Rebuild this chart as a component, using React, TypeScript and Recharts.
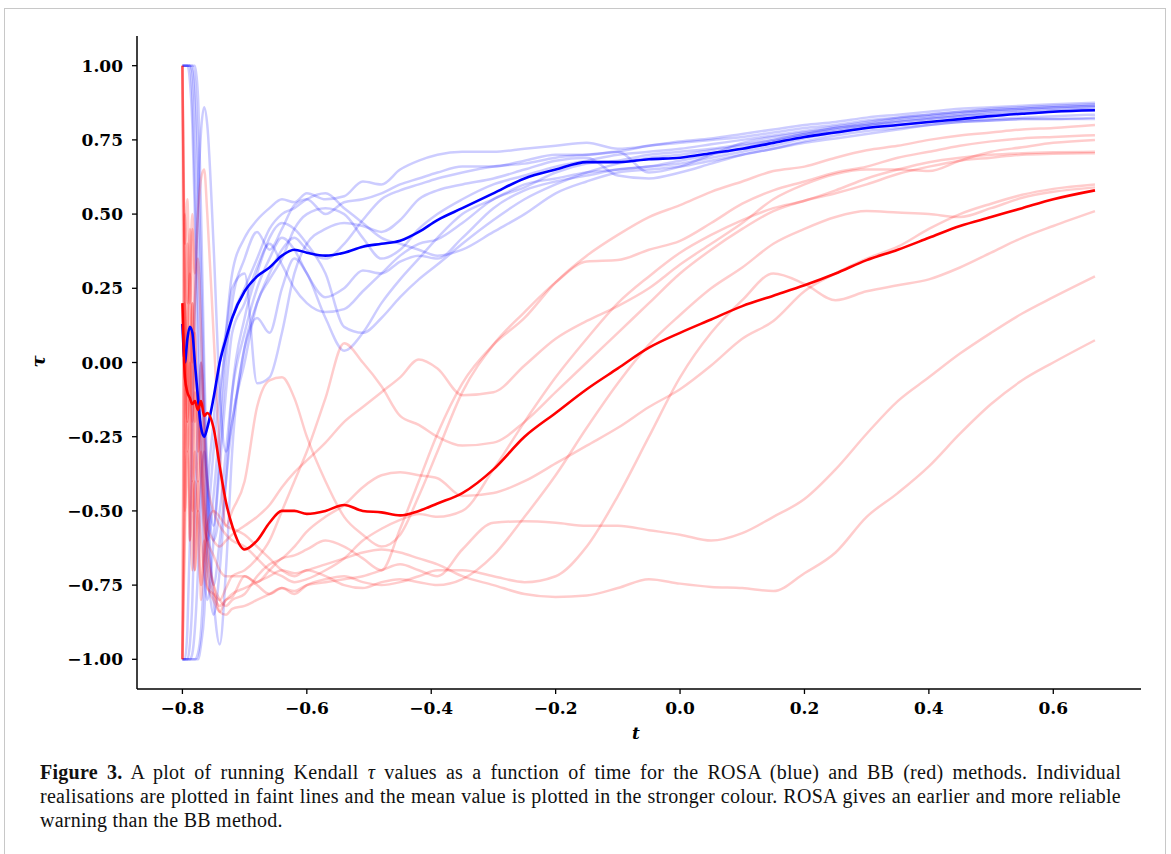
import React from 'react';
import { LineChart, Line, XAxis, YAxis } from 'recharts';

// time grid (finer at the start where the runs jump around)
const T = [
  -0.8, -0.796, -0.792, -0.788, -0.784, -0.78, -0.775, -0.77, -0.765, -0.76, -0.75, -0.74, -0.73, -0.72,
  -0.7, -0.68, -0.66, -0.64, -0.62, -0.6, -0.57, -0.54, -0.51, -0.48, -0.45, -0.42, -0.39, -0.35, -0.3,
  -0.25, -0.2, -0.15, -0.1, -0.05, 0.0, 0.05, 0.1, 0.15, 0.2, 0.25, 0.3, 0.35, 0.4, 0.45, 0.5, 0.55, 0.6, 0.667,
];

const blueMean = [
  0.13, 0.0, 0.08, 0.12, 0.1, 0.0, -0.12, -0.22, -0.25, -0.22, -0.12, 0.0, 0.08, 0.15,
  0.24, 0.29, 0.32, 0.36, 0.38, 0.37, 0.36, 0.37, 0.39, 0.4, 0.41, 0.44, 0.48, 0.52, 0.57, 0.62, 0.65, 0.675,
  0.675, 0.685, 0.69, 0.705, 0.72, 0.74, 0.76, 0.775, 0.79, 0.8, 0.81, 0.82, 0.83, 0.838, 0.845, 0.85,
];

const redMean = [
  0.2, -0.05, -0.1, -0.12, -0.14, -0.13, -0.16, -0.13, -0.18, -0.17, -0.22, -0.35, -0.47, -0.55,
  -0.63, -0.6, -0.54, -0.5, -0.5, -0.51, -0.5, -0.48, -0.5, -0.505, -0.515, -0.5, -0.475, -0.44, -0.36, -0.25,
  -0.17, -0.09, -0.02, 0.05, 0.1, 0.145, 0.19, 0.225, 0.26, 0.3, 0.345, 0.38, 0.42, 0.46, 0.49, 0.52, 0.55, 0.58,
];

const blue1 = [1, 1, 1, 1, 0.9, 0.6, 0.2, -0.2, -0.5, -0.6, -0.45, -0.2, 0.1, 0.3, 0.42, 0.48, 0.52, 0.55, 0.54, 0.57, 0.55, 0.56, 0.61, 0.6, 0.65, 0.68, 0.7, 0.71, 0.71, 0.72, 0.73, 0.74, 0.72, 0.73, 0.745, 0.755, 0.77, 0.785, 0.8, 0.81, 0.825, 0.835, 0.845, 0.855, 0.86, 0.865, 0.87, 0.875];
const blue2 = [1, 1, 1, 0.95, 0.8, 0.5, 0.0, -0.4, -0.7, -0.8, -0.6, -0.3, 0.0, 0.2, 0.35, 0.44, 0.38, 0.45, 0.53, 0.55, 0.5, 0.54, 0.55, 0.57, 0.6, 0.62, 0.64, 0.66, 0.66, 0.68, 0.7, 0.7, 0.71, 0.64, 0.66, 0.7, 0.74, 0.76, 0.775, 0.79, 0.805, 0.82, 0.83, 0.84, 0.85, 0.855, 0.86, 0.865];
const blue3 = [-1, -1, -0.9, -0.6, -0.2, 0.2, 0.55, 0.78, 0.86, 0.8, 0.4, -0.1, -0.3, -0.2, 0.05, 0.15, 0.1, 0.25, 0.35, 0.3, 0.15, 0.04, 0.1, 0.2, 0.28, 0.35, 0.42, 0.5, 0.55, 0.6, 0.62, 0.64, 0.65, 0.66, 0.67, 0.69, 0.71, 0.73, 0.755, 0.775, 0.79, 0.8, 0.81, 0.815, 0.82, 0.825, 0.83, 0.835];
const blue4 = [-1, -1, -1, -1, -1, -1, -0.98, -0.9, -0.7, -0.45, -0.2, 0.0, 0.1, 0.25, 0.3, -0.07, -0.05, 0.1, 0.3, 0.4, 0.45, 0.47, 0.46, 0.44, 0.48, 0.55, 0.58, 0.6, 0.62, 0.65, 0.68, 0.69, 0.63, 0.62, 0.64, 0.67, 0.7, 0.72, 0.745, 0.765, 0.78, 0.79, 0.8, 0.81, 0.815, 0.82, 0.82, 0.825];
const blue5 = [1, 1, 1, 1, 1, 0.95, 0.7, 0.3, -0.1, -0.4, -0.6, -0.5, -0.3, -0.1, 0.1, 0.25, 0.35, 0.42, 0.38, 0.3, 0.22, 0.25, 0.31, 0.3, 0.34, 0.36, 0.35, 0.42, 0.52, 0.58, 0.61, 0.63, 0.65, 0.66, 0.68, 0.7, 0.72, 0.745, 0.765, 0.78, 0.795, 0.81, 0.82, 0.83, 0.835, 0.84, 0.845, 0.85];
const blue6 = [-1, -1, -1, -1, -0.98, -0.9, -0.7, -0.4, -0.3, -0.4, -0.55, -0.35, -0.1, 0.1, 0.2, 0.32, 0.4, 0.33, 0.25, 0.2, 0.17, 0.18, 0.24, 0.3, 0.36, 0.4, 0.415, 0.47, 0.55, 0.59, 0.64, 0.67, 0.68, 0.7, 0.71, 0.72, 0.735, 0.75, 0.77, 0.79, 0.8, 0.815, 0.825, 0.835, 0.845, 0.85, 0.855, 0.86];
const blue7 = [1, 1, 1, 1, 1, 1, 0.9, 0.5, 0.0, -0.4, -0.75, -0.6, -0.4, -0.2, 0.0, 0.2, 0.28, 0.35, 0.45, 0.5, 0.52, 0.5, 0.42, 0.35, 0.38, 0.45, 0.5, 0.55, 0.6, 0.63, 0.66, 0.68, 0.7, 0.71, 0.72, 0.735, 0.75, 0.765, 0.78, 0.795, 0.81, 0.825, 0.835, 0.845, 0.855, 0.86, 0.865, 0.87];
const blue8 = [-1, -1, -1, -1, -1, -1, -1, -0.95, -0.85, -0.6, -0.3, -0.1, 0.05, 0.15, 0.25, 0.35, 0.45, 0.5, 0.52, 0.55, 0.57, 0.52, 0.47, 0.42, 0.4, 0.38, 0.36, 0.38, 0.44, 0.5, 0.57, 0.61, 0.64, 0.65, 0.66, 0.68, 0.7, 0.72, 0.74, 0.755, 0.77, 0.785, 0.8, 0.81, 0.815, 0.82, 0.82, 0.82];
const blue9 = [1, 1, 1, 1, 0.98, 0.85, 0.5, 0.1, -0.3, -0.65, -0.85, -0.7, -0.4, -0.1, 0.15, 0.3, 0.42, 0.47, 0.45, 0.4, 0.3, 0.12, 0.1, 0.15, 0.22, 0.28, 0.33, 0.4, 0.48, 0.55, 0.6, 0.64, 0.67, 0.69, 0.7, 0.715, 0.73, 0.75, 0.77, 0.785, 0.8, 0.81, 0.82, 0.83, 0.84, 0.845, 0.85, 0.855];
const blue10 = [-1, -1, -1, -0.95, -0.8, -0.5, -0.2, 0.0, -0.2, -0.5, -0.8, -0.95, -0.7, -0.3, 0.05, 0.2, 0.3, 0.38, 0.42, 0.38, 0.35, 0.4, 0.48, 0.55, 0.58, 0.6, 0.62, 0.64, 0.66, 0.67, 0.69, 0.7, 0.71, 0.73, 0.74, 0.75, 0.76, 0.775, 0.79, 0.8, 0.815, 0.825, 0.835, 0.845, 0.85, 0.855, 0.86, 0.865];

const red1 = [1.0, 0.4, 0.55, 0.2, 0.45, 0.1, -0.2, -0.4, -0.55, -0.6, -0.65, -0.7, -0.72, -0.72, -0.72, -0.74, -0.7, -0.66, -0.65, -0.63, -0.6, -0.62, -0.66, -0.7, -0.56, -0.4, -0.24, -0.07, 0.06, 0.15, 0.27, 0.36, 0.43, 0.49, 0.53, 0.575, 0.61, 0.645, 0.66, 0.69, 0.715, 0.73, 0.75, 0.765, 0.775, 0.785, 0.79, 0.8];
const red2 = [-1.0, -0.3, 0.1, 0.3, 0.5, 0.3, 0.5, 0.62, 0.65, 0.5, 0.1, -0.3, -0.55, -0.5, -0.4, -0.15, -0.06, -0.05, -0.12, -0.25, -0.4, -0.52, -0.58, -0.62, -0.58, -0.45, -0.3, -0.1, 0.06, 0.17, 0.27, 0.34, 0.345, 0.38, 0.41, 0.47, 0.535, 0.58, 0.61, 0.64, 0.66, 0.69, 0.71, 0.73, 0.745, 0.755, 0.76, 0.766];
const red3 = [-1.0, 0.2, -0.1, 0.3, -0.2, 0.1, -0.3, -0.2, -0.45, -0.55, -0.6, -0.62, -0.6, -0.58, -0.55, -0.52, -0.48, -0.42, -0.37, -0.33, -0.27, -0.2, -0.15, -0.1, -0.05, 0.01, -0.02, -0.11, -0.1, -0.01, 0.08, 0.14, 0.19, 0.25, 0.33, 0.4, 0.47, 0.55, 0.6, 0.635, 0.65, 0.65, 0.645, 0.68, 0.71, 0.725, 0.74, 0.75];
const red4 = [1.0, -0.5, -0.3, -0.6, -0.4, -0.7, -0.5, -0.6, -0.7, -0.76, -0.78, -0.8, -0.76, -0.72, -0.7, -0.66, -0.6, -0.5, -0.4, -0.3, -0.12, 0.065, 0.0, -0.08, -0.18, -0.21, -0.25, -0.28, -0.27, -0.2, -0.1, 0.0, 0.1, 0.2, 0.3, 0.38, 0.45, 0.51, 0.545, 0.57, 0.6, 0.635, 0.66, 0.68, 0.69, 0.7, 0.703, 0.705];
const red5 = [-1.0, 0.5, 0.2, 0.45, 0.0, 0.2, 0.35, 0.1, -0.2, -0.4, -0.5, -0.55, -0.58, -0.6, -0.62, -0.66, -0.7, -0.72, -0.74, -0.73, -0.7, -0.66, -0.6, -0.56, -0.53, -0.51, -0.52, -0.5, -0.36, -0.2, -0.05, 0.08, 0.2, 0.29, 0.37, 0.43, 0.48, 0.52, 0.545, 0.58, 0.62, 0.65, 0.675, 0.69, 0.7, 0.705, 0.708, 0.71];
const red6 = [1.0, 0.0, -0.3, -0.1, 0.2, -0.2, -0.1, -0.3, -0.5, -0.65, -0.75, -0.8, -0.82, -0.8, -0.78, -0.72, -0.68, -0.66, -0.62, -0.57, -0.52, -0.48, -0.42, -0.38, -0.37, -0.38, -0.39, -0.45, -0.44, -0.4, -0.34, -0.28, -0.22, -0.15, -0.09, -0.01, 0.08, 0.14, 0.24, 0.3, 0.35, 0.39, 0.45, 0.5, 0.535, 0.565, 0.585, 0.6];
const red7 = [-1.0, -0.6, -0.2, -0.5, -0.7, -0.4, -0.6, -0.75, -0.65, -0.55, -0.5, -0.52, -0.55, -0.56, -0.58, -0.62, -0.66, -0.7, -0.72, -0.7, -0.72, -0.75, -0.76, -0.74, -0.73, -0.74, -0.75, -0.73, -0.65, -0.52, -0.38, -0.22, -0.07, 0.06, 0.16, 0.25, 0.32, 0.4, 0.45, 0.49, 0.51, 0.505, 0.5, 0.49, 0.52, 0.555, 0.575, 0.59];
const red8 = [1.0, 0.2, -0.2, 0.0, -0.5, -0.3, -0.4, 0.0, -0.3, -0.6, -0.75, -0.84, -0.85, -0.83, -0.82, -0.8, -0.78, -0.76, -0.78, -0.75, -0.73, -0.72, -0.74, -0.75, -0.74, -0.72, -0.7, -0.7, -0.72, -0.74, -0.72, -0.62, -0.45, -0.25, -0.05, 0.1, 0.21, 0.3, 0.265, 0.21, 0.24, 0.26, 0.28, 0.32, 0.37, 0.42, 0.46, 0.51];
const red9 = [-1.0, -0.5, 0.4, -0.6, 0.2, -0.7, -0.4, -0.8, -0.6, -0.75, -0.8, -0.84, -0.8, -0.79, -0.72, -0.75, -0.78, -0.76, -0.77, -0.75, -0.74, -0.73, -0.72, -0.7, -0.68, -0.7, -0.72, -0.63, -0.54, -0.535, -0.54, -0.55, -0.55, -0.565, -0.58, -0.6, -0.575, -0.52, -0.46, -0.36, -0.24, -0.13, -0.05, 0.03, 0.1, 0.165, 0.22, 0.29];
const red10 = [1.0, 0.3, -0.2, 0.1, -0.4, -0.1, -0.5, -0.3, -0.6, -0.7, -0.78, -0.82, -0.8, -0.78, -0.76, -0.74, -0.72, -0.7, -0.71, -0.7, -0.68, -0.66, -0.64, -0.63, -0.64, -0.66, -0.68, -0.72, -0.75, -0.78, -0.79, -0.785, -0.76, -0.73, -0.745, -0.756, -0.76, -0.77, -0.71, -0.64, -0.52, -0.44, -0.35, -0.24, -0.14, -0.06, 0.0, 0.075];

const blueRuns = [blue1, blue2, blue3, blue4, blue5, blue6, blue7, blue8, blue9, blue10];
const redRuns = [red1, red2, red3, red4, red5, red6, red7, red8, red9, red10];

const xTicks = [-0.8, -0.6, -0.4, -0.2, 0.0, 0.2, 0.4, 0.6];
const yTicks = [-1.0, -0.75, -0.5, -0.25, 0.0, 0.25, 0.5, 0.75, 1.0];

const data = T.map((t, i) => {
  const row: Record<string, number> = { t, blueMean: blueMean[i], redMean: redMean[i] };
  blueRuns.forEach((run, k) => (row[`b${k}`] = run[i]));
  redRuns.forEach((run, k) => (row[`r${k}`] = run[i]));
  return row;
});

const minus = (s: string) => s.replace('-', '\u2212');

const tickFont = {
  fontFamily: 'DejaVu Serif',
  fontWeight: 700,
  fontSize: 17,
  fill: '#000',
};

const captionLine = {
  width: 1081,
  textAlign: 'justify' as const,
  textAlignLast: 'justify' as const,
};

export default function App() {
  return (
    <div style={{ position: 'absolute', left: 0, top: 0, width: 1171, height: 854, background: '#fff' }}>
      <div
        style={{
          position: 'absolute',
          left: 4,
          top: 8,
          width: 1162,
          height: 850,
          border: '1px solid #c8c8c8',
          boxSizing: 'border-box',
        }}
      />
      <div style={{ position: 'absolute', left: 0, top: 0 }}>
        <LineChart width={1171} height={740} data={data} margin={{ top: 36, right: 30, bottom: 21, left: 57 }}>
          <XAxis
            dataKey="t"
            type="number"
            domain={[-0.873, 0.741]}
            ticks={xTicks}
            allowDataOverflow
            height={30}
            tickSize={5}
            tickMargin={8}
            tick={tickFont}
            tickFormatter={(v: number) => minus(v.toFixed(1))}
            axisLine={{ stroke: '#000', strokeWidth: 1.5 }}
            tickLine={{ stroke: '#000', strokeWidth: 1.3 }}
          />
          <YAxis
            type="number"
            domain={[-1.1, 1.1]}
            ticks={yTicks}
            allowDataOverflow
            width={80}
            tickSize={5}
            tickMargin={9}
            tick={tickFont}
            tickFormatter={(v: number) => minus(v.toFixed(2))}
            axisLine={{ stroke: '#000', strokeWidth: 1.5 }}
            tickLine={{ stroke: '#000', strokeWidth: 1.3 }}
          />
          {blueRuns.map((_, k) => (
            <Line
              key={`b${k}`}
              dataKey={`b${k}`}
              type="monotone"
              stroke="#0000ff"
              strokeOpacity={0.2}
              strokeWidth={2.5}
              dot={false}
              isAnimationActive={false}
            />
          ))}
          {redRuns.map((_, k) => (
            <Line
              key={`r${k}`}
              dataKey={`r${k}`}
              type="monotone"
              stroke="#ff0000"
              strokeOpacity={0.2}
              strokeWidth={2.5}
              dot={false}
              isAnimationActive={false}
            />
          ))}
          <Line dataKey="blueMean" type="monotone" stroke="#0000ff" strokeWidth={2.6} dot={false} isAnimationActive={false} />
          <Line dataKey="redMean" type="monotone" stroke="#ff0000" strokeWidth={2.6} dot={false} isAnimationActive={false} />
        </LineChart>
      </div>
      <div
        style={{
          position: 'absolute',
          left: 32,
          top: 351,
          transform: 'rotate(-90deg)',
          fontFamily: 'DejaVu Serif',
          fontWeight: 700,
          fontStyle: 'italic',
          fontSize: 18,
        }}
      >
        τ
      </div>
      <div
        style={{
          position: 'absolute',
          left: 632,
          top: 723,
          fontFamily: 'DejaVu Serif',
          fontWeight: 700,
          fontStyle: 'italic',
          fontSize: 17,
        }}
      >
        t
      </div>
      <div
        style={{
          position: 'absolute',
          left: 40,
          top: 760,
          fontFamily: '"Liberation Serif"',
          fontSize: 20,
          letterSpacing: 0.25,
          lineHeight: '24px',
          color: '#111',
          whiteSpace: 'nowrap',
        }}
      >
        <div style={captionLine}>
          <b>Figure 3.</b> A plot of running Kendall <i>τ</i> values as a function of time for the ROSA (blue) and BB (red) methods. Individual
        </div>
        <div style={captionLine}>
          realisations are plotted in faint lines and the mean value is plotted in the stronger colour. ROSA gives an earlier and more reliable
        </div>
        <div>warning than the BB method.</div>
      </div>
    </div>
  );
}
